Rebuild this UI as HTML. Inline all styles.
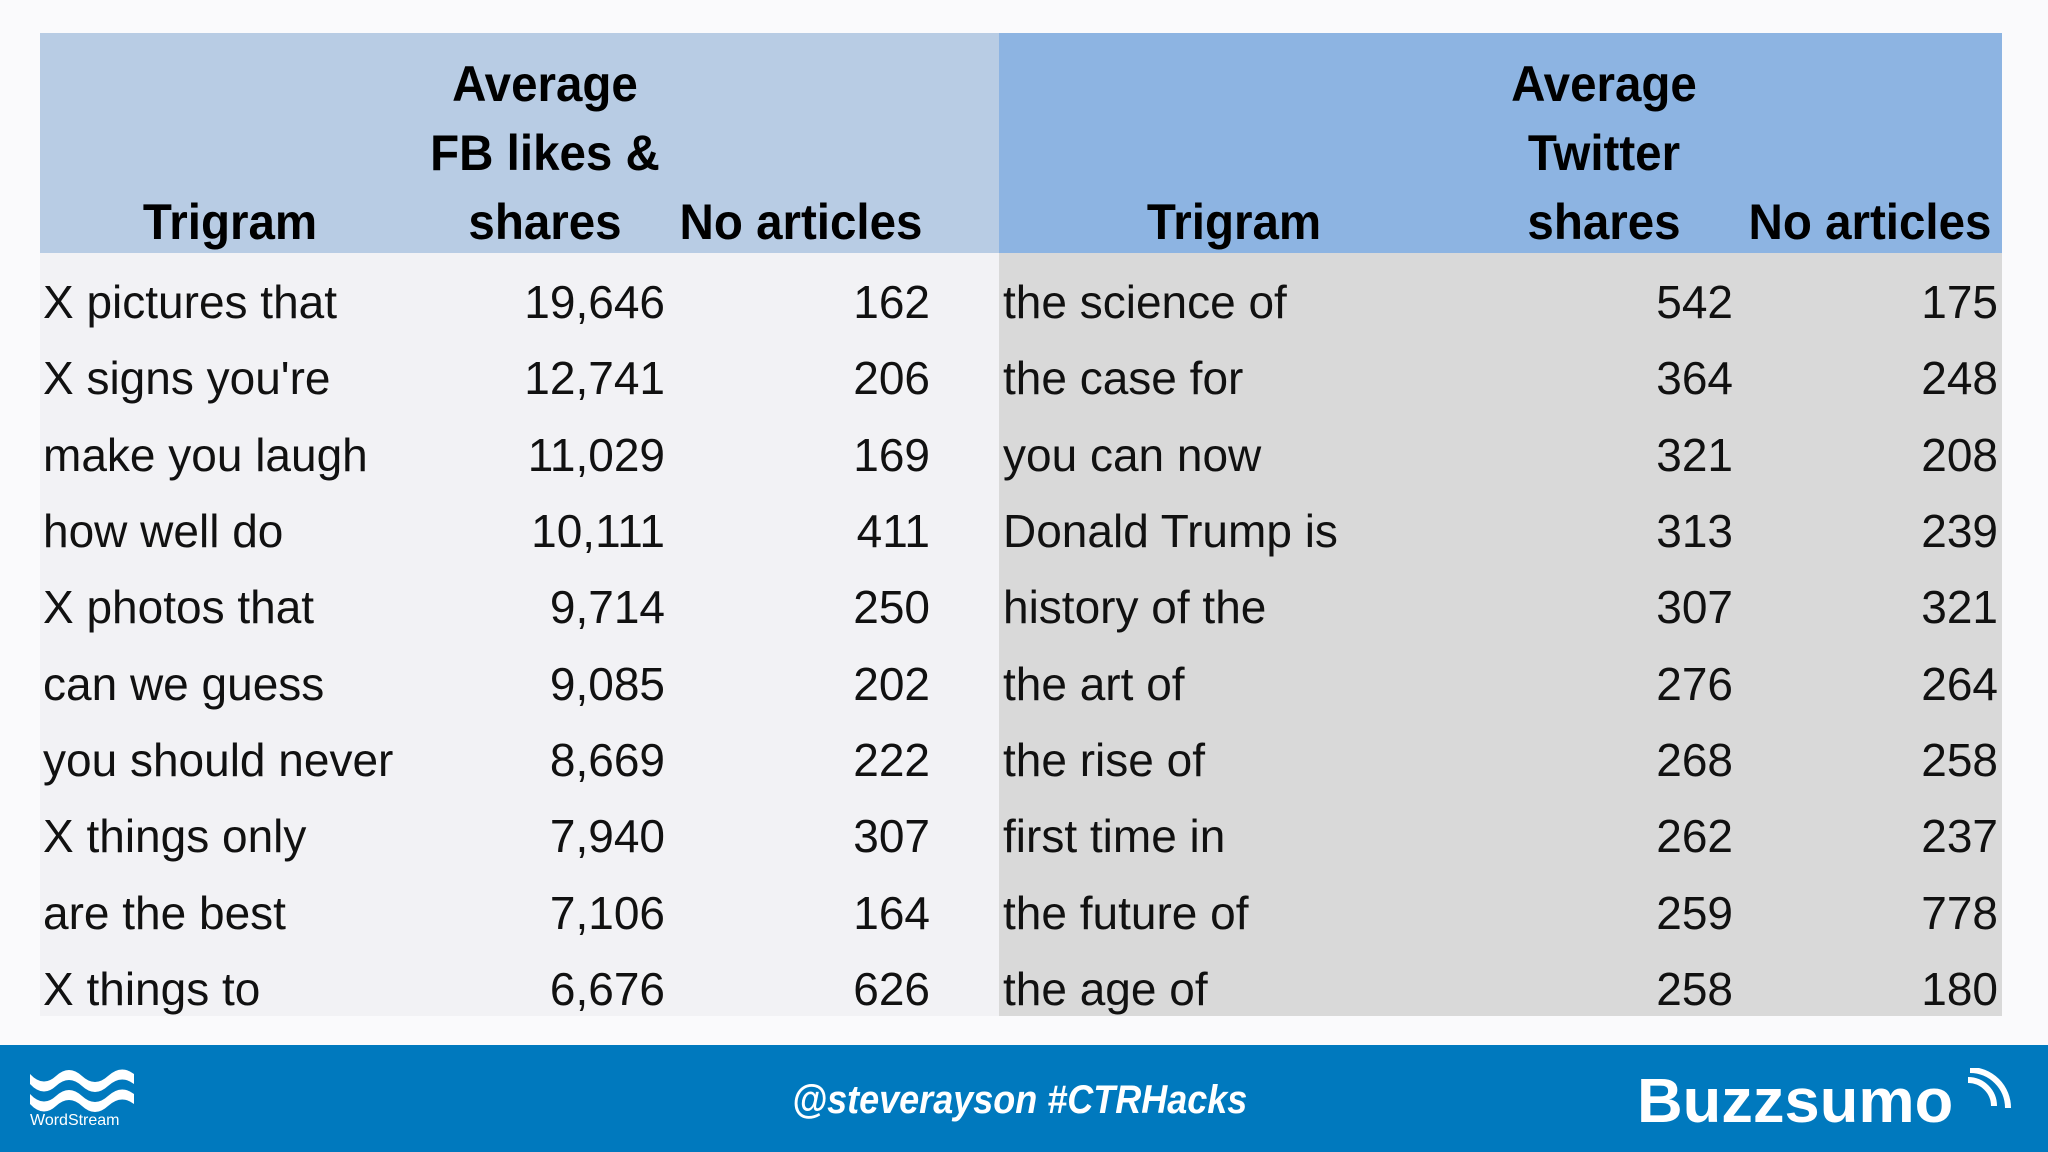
<!DOCTYPE html>
<html><head><meta charset="utf-8">
<style>
body{margin:0;width:2048px;height:1152px;background:#fafafc;position:relative;overflow:hidden;font-family:"Liberation Sans",sans-serif;}
.a{position:absolute;}
.t{position:absolute;font-size:46px;color:#111;white-space:nowrap;line-height:50px;}
.h{position:absolute;font-size:50px;font-weight:bold;color:#000;white-space:nowrap;line-height:69px;text-align:center;transform:translateX(-50%) scaleX(0.95);}
</style></head><body>
<div class="a" style="left:40px;top:33px;width:959px;height:220px;background:#b8cce4"></div>
<div class="a" style="left:999px;top:33px;width:1003px;height:220px;background:#8db4e2"></div>
<div class="a" style="left:40px;top:253px;width:959px;height:763px;background:#f2f2f5"></div>
<div class="a" style="left:999px;top:253px;width:1003px;height:763px;background:#d9d9d9"></div>

<div class="h" style="left:230px;top:188px">Trigram</div>
<div class="h" style="left:545px;top:50px">Average<br>FB likes &amp;<br>shares</div>
<div class="h" style="left:801px;top:188px">No articles</div>
<div class="h" style="left:1234px;top:188px">Trigram</div>
<div class="h" style="left:1604px;top:50px">Average<br>Twitter<br>shares</div>
<div class="h" style="left:1870px;top:188px">No articles</div>

<div id="rows"></div>

<div class="a" style="left:0;top:1045px;width:2048px;height:107px;background:#0079be"></div>
<svg class="a" style="left:28px;top:1066px" width="110" height="60" viewBox="0 0 110 60">
<path d="M2 8 Q15 22 28 10 Q41 -2 54 10 Q67 22 80 10 Q93 -2 106 8 L106 18 Q93 8 80 20 Q67 32 54 20 Q41 8 28 20 Q15 32 2 18Z" fill="#fff"/>
<path d="M2 28 Q15 42 28 30 Q41 18 54 30 Q67 42 80 30 Q93 18 106 28 L106 38 Q93 28 80 40 Q67 52 54 40 Q41 28 28 40 Q15 52 2 38Z" fill="#fff"/>
</svg>
<div class="a" style="left:30px;top:1112px;font-size:16px;color:#fff">WordStream</div>
<div class="a" style="left:792px;top:1078px;font-size:40px;font-style:italic;font-weight:bold;color:#fff;white-space:nowrap;transform:scaleX(0.9);transform-origin:left">@steverayson #CTRHacks</div>
<div class="a" style="left:1637px;top:1066px;font-size:62px;font-weight:bold;color:#fff;white-space:nowrap;transform:scaleX(1.02);transform-origin:left">Buzzsumo</div>
<svg class="a" style="left:1958px;top:1068px" width="60" height="50" viewBox="0 0 60 50">
<path d="M10 12 A26 26 0 0 1 36 38" stroke="#fff" stroke-width="6" fill="none"/>
<path d="M12 2 A38 38 0 0 1 50 40" stroke="#fff" stroke-width="6" fill="none"/>
</svg>

<script>
const leftTrigrams=["X pictures that","X signs you're","make you laugh","how well do","X photos that","can we guess","you should never","X things only","are the best","X things to"];
const fbShares=["19,646","12,741","11,029","10,111","9,714","9,085","8,669","7,940","7,106","6,676"];
const leftArticles=["162","206","169","411","250","202","222","307","164","626"];
const rightTrigrams=["the science of","the case for","you can now","Donald Trump is","history of the","the art of","the rise of","first time in","the future of","the age of"];
const twShares=["542","364","321","313","307","276","268","262","259","258"];
const rightArticles=["175","248","208","239","321","264","258","237","778","180"];
const rows=document.getElementById('rows');
const top0=253, rowH=76.3;
function cell(text,x,align,y,name){
  const d=document.createElement('div');
  d.className='t';
  
  
  d.textContent=text;
  d.style.top=(y-25)+'px';
  if(align==='l'){d.style.left=x+'px';}
  else{d.style.right=(2048-x)+'px';}
  rows.appendChild(d);
}
for(let i=0;i<leftTrigrams.length;i++){
  const y=top0+rowH*(i+0.5)+11;
  cell(leftTrigrams[i],43,'l',y,'left-trigram-cell');
  cell(fbShares[i],665,'r',y,'fb-shares-cell');
  cell(leftArticles[i],930,'r',y,'left-articles-cell');
  cell(rightTrigrams[i],1003,'l',y,'right-trigram-cell');
  cell(twShares[i],1733,'r',y,'twitter-shares-cell');
  cell(rightArticles[i],1998,'r',y,'right-articles-cell');
}
</script>
</body></html>
